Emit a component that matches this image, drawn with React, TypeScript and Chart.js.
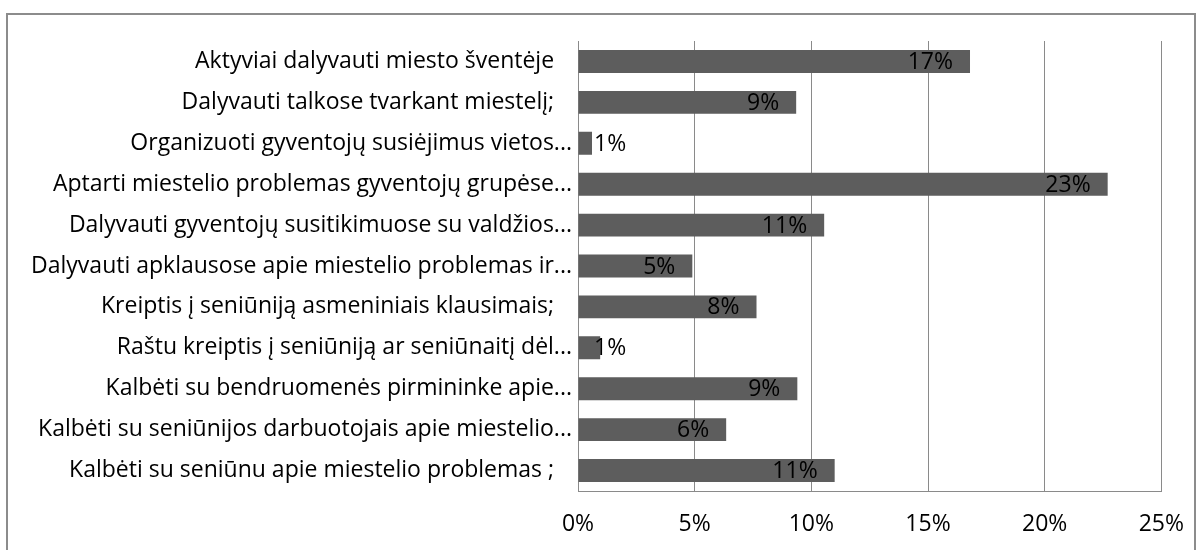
import React, { useEffect, useRef } from "react";
import { Chart, registerables } from "chart.js";

Chart.register(...registerables);

const categories: string[] = [
  "Aktyviai dalyvauti miesto šventėje   ",
  "Dalyvauti talkose tvarkant miestelį;   ",
  "Organizuoti gyventojų susiėjimus vietos...",
  "Aptarti miestelio problemas gyventojų grupėse...",
  "Dalyvauti gyventojų susitikimuose su valdžios...",
  "Dalyvauti apklausose apie miestelio problemas ir...",
  "Kreiptis į seniūniją asmeniniais klausimais;   ",
  "Raštu kreiptis į seniūniją ar seniūnaitį dėl...",
  "Kalbėti su bendruomenės pirmininke apie...",
  "Kalbėti su seniūnijos darbuotojais apie miestelio...",
  "Kalbėti su seniūnu apie miestelio problemas ;   ",
];

const values: number[] = [16.8, 9.35, 0.6, 22.7, 10.55, 4.9, 7.65, 0.95, 9.4, 6.35, 11.0];

const xTicks: number[] = [0, 5, 10, 15, 20, 25];

const FONT = "'Open Sans'";
const FONT_SIZE = 23;

const dataLabelPlugin = {
  id: "dataLabels",
  afterDatasetsDraw(chart: any) {
    const ctx = chart.ctx;
    const meta = chart.getDatasetMeta(0);
    const xScale = chart.scales.x;
    const base = xScale.getPixelForValue(0);
    ctx.save();
    ctx.font = `${FONT_SIZE}px ${FONT}`;
    ctx.fillStyle = "#000000";
    ctx.textBaseline = "middle";
    ctx.textAlign = "left";
    meta.data.forEach((bar: any, i: number) => {
      const text = `${Math.round(values[i])}%`;
      const w = ctx.measureText(text).width;
      let x = bar.x - 17 - w;
      if (x < base + 16) x = base + 16;
      ctx.fillText(text, x, bar.y + 1);
    });
    ctx.restore();
  },
};

export default function App() {
  const canvasRef = useRef<HTMLCanvasElement | null>(null);

  useEffect(() => {
    if (!canvasRef.current) return;
    const chart = new Chart(canvasRef.current, {
      type: "bar",
      data: {
        labels: categories,
        datasets: [
          {
            data: values,
            backgroundColor: "#5d5d5d",
            borderWidth: 0,
            categoryPercentage: 1,
            barPercentage: 0.56,
          },
        ],
      },
      options: {
        indexAxis: "y",
        animation: false,
        responsive: false,
        maintainAspectRatio: false,
        layout: { padding: { left: 0, top: 41, right: 42, bottom: 0 } },
        plugins: {
          legend: { display: false },
          tooltip: { enabled: false },
        },
        scales: {
          x: {
            min: 0,
            max: 25,
            afterBuildTicks(scale: any) {
              scale.ticks = xTicks.map((v) => ({ value: v }));
            },
            afterFit(scale: any) {
              scale.height = 59;
            },
            grid: {
              color: "#8a8a8a",
              lineWidth: 1,
              drawTicks: false,
            },
            border: { display: true, color: "#8a8a8a", width: 1 },
            ticks: {
              padding: 20,
              color: "#000000",
              font: { family: FONT, size: FONT_SIZE },
              callback: (v: any) => `${v}%`,
            },
          },
          y: {
            afterFit(scale: any) {
              scale.width = 578;
            },
            grid: { display: false, drawTicks: false },
            border: { display: true, color: "#8a8a8a", width: 1 },
            ticks: {
              padding: 6,
              color: "#000000",
              autoSkip: false,
              font: { family: FONT, size: FONT_SIZE },
            },
          },
        },
      },
      plugins: [dataLabelPlugin],
    });
    return () => chart.destroy();
  }, []);

  return (
    <div style={{ position: "fixed", left: 0, top: 0, width: 1204, height: 550, background: "#ffffff", overflow: "hidden" }}>
      <div
        style={{
          position: "absolute",
          left: 6,
          top: 13,
          width: 1190,
          height: 560,
          border: "2px solid #8c8c8c",
          boxSizing: "border-box",
        }}
      />
      <canvas ref={canvasRef} width={1204} height={550} style={{ position: "absolute", left: 0, top: 0 }} />
    </div>
  );
}
